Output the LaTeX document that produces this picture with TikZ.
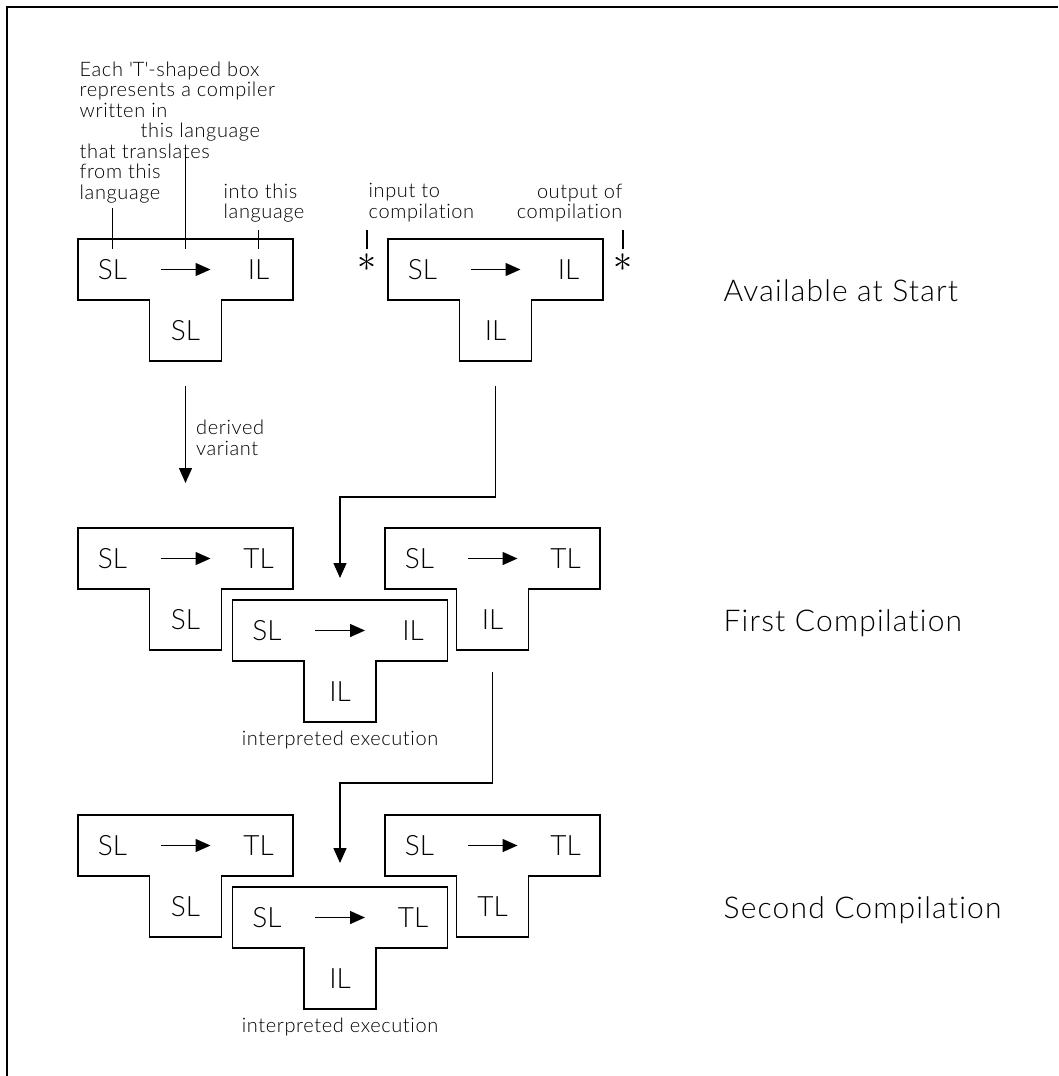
\documentclass[tikz,border=0pt]{standalone}
\usepackage{fontspec}
\setmainfont{Lato Light}[Ligatures=NoCommon]
\newfontfamily\notefamily{Lato Light}[Ligatures=NoCommon, LetterSpace=3]
\newfontfamily\stagefamily{Lato Light}[Ligatures=NoCommon, LetterSpace=4]
\usetikzlibrary{positioning, arrows.meta}

\newcommand{\langfont}{\fontsize{28}{30}\selectfont}
\newcommand{\notefont}{\notefamily\fontsize{20}{20.5}\selectfont}
\newcommand{\stagefont}{\stagefamily\fontsize{30}{34}\selectfont}

% one T-shaped compiler: name, bar centre, source, target, implementation
\newcommand{\tcompiler}[5]{%
  \node[tbar] (#1) at (#2) {};
  \node[tstem, below=0pt of #1] (#1-stem) {#5};
  \node[lang] (#1-src) at ([xshift=-73pt]#1.center) {#3};
  \node[lang] (#1-tgt) at ([xshift=73pt]#1.center) {#4};
  \draw (#1.north west) -- (#1.north east) -- (#1.south east) -- (#1-stem.north east)
    -- (#1-stem.south east) -- (#1-stem.south west) -- (#1-stem.north west)
    -- (#1.south west) -- cycle;
  \draw[->] ([xshift=-25pt]#1.center) -- ([xshift=25pt]#1.center);
}

\begin{document}
\begin{tikzpicture}[x=1pt, y=-1pt, line width=1.4pt, line join=miter,
  >={Triangle[length=15pt, width=13pt]},
  tbar/.style={minimum width=215pt, minimum height=61pt, inner sep=0pt, outer sep=0pt},
  tstem/.style={minimum width=72pt, minimum height=61pt, inner sep=0pt, outer sep=0pt, font=\langfont},
  lang/.style={font=\langfont, inner sep=0pt},
  note/.style={font=\notefont, align=left, inner sep=1pt},
  stage/.style={font=\stagefont, anchor=base west, inner sep=0pt},
  astnode/.style={inner sep=0pt}]
  \useasboundingbox (0,0) rectangle (1058,1076);
  \draw (7,1076) -- (7,7) -- (1058,7);

  % available at start
  \tcompiler{start1}{185.5,269.5}{SL}{IL}{SL}
  \tcompiler{start2}{495.5,269.5}{SL}{IL}{IL}
  \node[stage] (stage1) at (723,301) {Available at Start};

  \node[note, anchor=north west] (note-box) at (78,60) {Each \textquotesingle T\textquotesingle-shaped box\\represents a compiler\\written in};
  \node[note, anchor=north west] (note-in) at (139,121.5) {this language};
  \node[note, anchor=north west] (note-from) at (78,142) {that translates\\from this\\language};
  \node[note, anchor=north west] (note-into) at (222,182) {into this\\language};
  \draw[shorten <=3pt, shorten >=-10pt] (note-from.south -| start1-src) -- (start1.north -| start1-src);
  \draw[shorten <=8pt, shorten >=-10pt] (note-in.south -| start1) -- (start1.north);
  \draw[shorten <=6pt, shorten >=-10pt] (note-into.south -| start1-tgt) -- (start1.north -| start1-tgt);

  \node[astnode] (ast-in) at (367,263) {\scalebox{3.8}{$\ast$}};
  \node[astnode] (ast-out) at (623,263) {\scalebox{3.8}{$\ast$}};
  \node[note, anchor=north west] (note-input) at (367,182) {input to\\compilation};
  \node[note, anchor=north east, align=right] (note-output) at (624,182) {output of\\compilation};
  \draw[shorten <=6pt, shorten >=4pt] (note-input.south -| ast-in) -- (ast-in.north);
  \draw[shorten <=6pt, shorten >=4pt] (note-output.south -| ast-out) -- (ast-out.north);

  % first compilation
  \tcompiler{first1}{185.5,558.5}{SL}{TL}{SL}
  \tcompiler{first3}{492.5,558.5}{SL}{TL}{IL}
  \tcompiler{first2}{340,630.5}{SL}{IL}{IL}
  \node[note, below=7pt of first2-stem] (interp1) {interpreted execution};
  \node[stage] (stage2) at (723,631) {First Compilation};

  \draw[->, shorten <=25pt, shorten >=45pt] (start1-stem) -- (first1)
    node[pos=0.46, right=9pt, note] (derived) {derived\\variant};
  \draw[->, shorten >=22pt] ([yshift=-25pt]start2-stem.south) -- ++(0,111) -| (first2.north);

  % second compilation
  \tcompiler{second1}{185.5,845.5}{SL}{TL}{SL}
  \tcompiler{second3}{492.5,845.5}{SL}{TL}{TL}
  \tcompiler{second2}{340,917.5}{SL}{TL}{IL}
  \node[note, below=7pt of second2-stem] (interp2) {interpreted execution};
  \node[stage] (stage3) at (723,918) {Second Compilation};

  \draw[->, shorten >=24pt] ([yshift=-22pt]first3-stem.south) -- ++(0,111) -| (second2.north);
\end{tikzpicture}
\end{document}
